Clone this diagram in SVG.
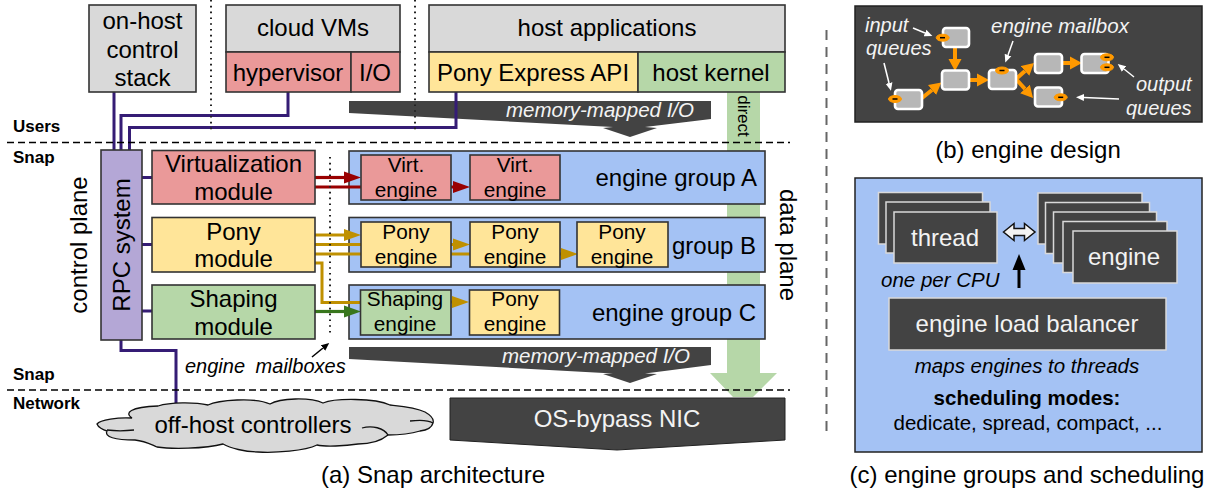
<svg xmlns="http://www.w3.org/2000/svg" width="1210" height="490" viewBox="0 0 1210 490">
<style>
text{font-family:"Liberation Sans",Arial,sans-serif;fill:#000;font-size:24px}
.m{text-anchor:middle}
.e{text-anchor:end}
.s{font-size:20.8px}
.i{font-style:italic;font-size:20.5px}
.w{fill:#f3f3f3}
.b{font-weight:bold;font-size:17px}
.box{stroke:#333;stroke-width:1.6}
.gray{fill:#d9d9d9}.red{fill:#ea9999}.yel{fill:#ffe599}.grn{fill:#b6d7a8}.blu{fill:#a4c2f4}.pur{fill:#b4a7d6}
.dk{fill:#434343}
.st{fill:#434343;stroke:#d9d9d9;stroke-width:1.5}
.pl{fill:none;stroke:#351c75;stroke-width:3}
.rl{fill:none;stroke:#990000;stroke-width:3.2}
.gl{fill:none;stroke:#bf9000;stroke-width:3}
.tl{fill:none;stroke:#38761d;stroke-width:3.2}
.ol{fill:none;stroke:#ff9900;stroke-width:4}
.wl{fill:none;stroke:#fff;stroke-width:1.5}
.dash{fill:none;stroke:#000;stroke-width:1.5;stroke-dasharray:7 4}
.dot{fill:none;stroke:#222;stroke-width:2;stroke-dasharray:1.6 4.2}
.q{fill:#ff9900;stroke:#ff9900}
.n{fill:#b7b7b7;stroke:#fff;stroke-width:2.6}
</style>
<defs>
<marker id="hr" markerUnits="userSpaceOnUse" markerWidth="18" markerHeight="14" refX="0" refY="7" orient="auto"><path d="M0 1L17 7L0 13Z" fill="#990000"/></marker>
<marker id="hg" markerUnits="userSpaceOnUse" markerWidth="18" markerHeight="14" refX="0" refY="7" orient="auto"><path d="M0 1L17 7L0 13Z" fill="#bf9000"/></marker>
<marker id="ht" markerUnits="userSpaceOnUse" markerWidth="18" markerHeight="14" refX="0" refY="7" orient="auto"><path d="M0 1L17 7L0 13Z" fill="#38761d"/></marker>
<marker id="ho" markerUnits="userSpaceOnUse" markerWidth="13" markerHeight="14" refX="0" refY="7" orient="auto"><path d="M0 .5L12 7L0 13.5Z" fill="#ff9900"/></marker>
<marker id="hw" markerUnits="userSpaceOnUse" markerWidth="9" markerHeight="8" refX="0" refY="4" orient="auto"><path d="M0 .5L8 4L0 7.5Z" fill="#fff"/></marker>
<marker id="hk" markerUnits="userSpaceOnUse" markerWidth="9" markerHeight="8" refX="0" refY="4" orient="auto"><path d="M0 .5L8 4L0 7.5Z" fill="#000"/></marker>
</defs>

<g id="data-path-direct"><path fill="#b6d7a8" d="M727 92H760V373H777L753 397H733L710 373H727Z"/><text class="m" style="font-size:17px" transform="translate(738,116) rotate(90)">direct</text></g>

<g id="mmio-top"><polygon class="dk" points="349,101 711,101 711,119 645,127 657,128 630,137 603,128 613,127 349,113"/><text class="i w m" x="600" y="117">memory-mapped I/O</text></g>
<g id="mmio-bottom"><polygon class="dk" points="349,347 711,347 711,365 645,373.500 657,374 630,383 603,374 613,373.500 349,359"/><text class="i w m" x="596" y="363">memory-mapped I/O</text></g>

<g id="group-a"><rect class="box blu" x="349" y="151" width="416" height="53"/><text class="e" x="757" y="186">engine group A</text></g>
<g id="group-b"><rect class="box blu" x="349" y="217.500" width="416" height="54.500"/><text class="e" x="756" y="254">group B</text></g>
<g id="group-c"><rect class="box blu" x="349" y="285" width="416" height="54"/><text class="e" x="756" y="321">engine group C</text></g>

<g id="connectors">
<path class="pl" d="M114 92V150"/>
<path class="pl" d="M121 150V115.500H288V92"/>
<path class="pl" d="M129.500 150V127.500H456V92"/>
<path class="pl" d="M142 177.500H152M142 244.500H152M142 311H152"/>
<path class="pl" d="M121 340V350.500H176V404"/>
<path class="rl" d="M315 177.500H344" marker-end="url(#hr)"/>
<path class="rl" d="M315 187H361"/>
<path class="rl" d="M451 187H453" marker-end="url(#hr)"/>
<path class="gl" d="M315 235H344" marker-end="url(#hg)"/>
<path class="gl" d="M315 244.500H361M315 254H361"/>
<path class="gl" d="M315 263H322V302.500H361"/>
<path class="gl" d="M451 244.500H453" marker-end="url(#hg)"/>
<path class="gl" d="M451 254H470"/>
<path class="gl" d="M560 254H561" marker-end="url(#hg)"/>
<path class="gl" d="M451 302H452" marker-end="url(#hg)"/>
<path class="tl" d="M315 311.500H344" marker-end="url(#ht)"/>
<path class="dot" d="M211 0V131M415 0V133M330 157V336"/>
<path d="M312 357L323 348" fill="none" stroke="#000" stroke-width="1.5" marker-end="url(#hk)"/>
</g>

<g id="on-host"><rect class="box gray" x="89" y="5" width="107" height="87"/><text class="m" x="142.500" y="29">on-host</text><text class="m" x="142.500" y="58">control</text><text class="m" x="142.500" y="86">stack</text></g>
<g id="cloud-vms"><rect class="box gray" x="226" y="5" width="174" height="47"/><text class="m" x="313" y="36">cloud VMs</text></g>
<g id="hypervisor"><rect class="box red" x="226" y="52" width="125" height="40"/><text class="m" x="288" y="81">hypervisor</text></g>
<g id="io"><rect class="box red" x="351" y="52" width="49" height="40"/><text class="m" x="375" y="81">I/O</text></g>
<g id="host-apps"><rect class="box gray" x="429" y="5" width="356" height="47"/><text class="m" x="607" y="36">host applications</text></g>
<g id="pony-api"><rect class="box yel" x="429" y="52" width="209" height="40"/><text class="m" x="533" y="81">Pony Express API</text></g>
<g id="host-kernel"><rect class="box grn" x="638" y="52" width="147" height="40"/><text class="m" x="711" y="81">host kernel</text></g>

<g id="rpc"><rect class="box pur" x="101" y="150" width="41" height="190"/><text class="m" transform="translate(130,245) rotate(-90)">RPC system</text></g>
<g id="virt-mod"><rect class="box red" x="152" y="150.500" width="163" height="53.500"/><text class="m" x="233.500" y="172">Virtualization</text><text class="m" x="233.500" y="200">module</text></g>
<g id="pony-mod"><rect class="box yel" x="152" y="217.500" width="163" height="54.500"/><text class="m" x="233.500" y="240">Pony</text><text class="m" x="233.500" y="267">module</text></g>
<g id="shape-mod"><rect class="box grn" x="152" y="285" width="163" height="54"/><text class="m" x="233.500" y="307">Shaping</text><text class="m" x="233.500" y="335">module</text></g>

<g id="virt1"><rect class="box red" x="361" y="155" width="90" height="45"/><text class="m s" x="406" y="172">Virt.</text><text class="m s" x="406" y="197">engine</text></g>
<g id="virt2"><rect class="box red" x="470" y="155" width="90" height="45"/><text class="m s" x="515" y="172">Virt.</text><text class="m s" x="515" y="197">engine</text></g>
<g id="pony1"><rect class="box yel" x="361" y="222" width="90" height="45"/><text class="m s" x="406" y="239">Pony</text><text class="m s" x="406" y="264">engine</text></g>
<g id="pony2"><rect class="box yel" x="470" y="222" width="90" height="45"/><text class="m s" x="515" y="239">Pony</text><text class="m s" x="515" y="264">engine</text></g>
<g id="pony3"><rect class="box yel" x="577" y="222" width="91" height="45"/><text class="m s" x="622" y="239">Pony</text><text class="m s" x="622" y="264">engine</text></g>
<g id="shape-eng"><rect class="box grn" x="360.500" y="290" width="90.500" height="45"/><text class="m s" x="405" y="306">Shaping</text><text class="m s" x="405" y="331">engine</text></g>
<g id="pony4"><rect class="box yel" x="469.500" y="290" width="90" height="45"/><text class="m s" x="515" y="306">Pony</text><text class="m s" x="515" y="331">engine</text></g>

<g id="off-host"><path fill="#d9d9d9" stroke="#111" stroke-width="1.3" d="M97 424C100 420 118 417 132 418C124 413 130 407 158 406C170 402 195 402 208 405C218 400 255 397 270 404C280 398 310 397 323 403C335 398 375 398 390 405C400 406 415 407 425 412C432 416 434 420 433 423C432 427 428 430 420 431C410 434 398 435 388 435C382 440 372 444 358 444C345 446 325 447 317 445C305 451 275 453 258 452C245 452 230 448 223 444C205 449 170 449 157 447C150 444 145 441 135 440C115 440 104 437 107 431C103 430 98 427 97 424Z"/><path fill="none" stroke="#111" stroke-width="1.3" d="M107 430C115 431 125 431 134 430M362 428C372 425 384 428 388 435M410 421C418 420 428 420 433 423"/><text class="m" x="253" y="433">off-host controllers</text></g>

<g id="nic"><polygon class="dk" stroke="#222" stroke-width="1" points="450,398 785,398 785,440 617,450 450,440"/><text class="m w" x="617" y="427">OS-bypass NIC</text></g>

<g id="separators">
<path class="dash" d="M7 142.500H790M7 390H790"/>
<path d="M826.500 30V432" fill="none" stroke="#666" stroke-width="2" stroke-dasharray="10 7"/>
</g>

<g id="labels-a">
<text class="b" x="13" y="132">Users</text>
<text class="b" x="13" y="163">Snap</text>
<text class="b" x="13" y="380">Snap</text>
<text class="b" x="13" y="409">Network</text>
<text class="m" transform="translate(87,245) rotate(-90)">control plane</text>
<text class="m" transform="translate(780,245) rotate(90)">data plane</text>
<text class="i" style="font-size:20px;word-spacing:5px" x="185" y="373">engine mailboxes</text>
<text class="m" x="433" y="483">(a) Snap architecture</text>
</g>

<g id="panel-b">
<rect x="855" y="6" width="347" height="116" fill="#434343" stroke="#222" stroke-width="1.5"/>
<g id="b-edges">
<path class="ol" d="M955 47V59" marker-end="url(#ho)"/>
<path class="ol" d="M922 98L932 90" marker-end="url(#ho)"/>
<path class="ol" d="M969 80H977" marker-end="url(#ho)"/>
<path class="ol" d="M1016 79L1025 71" marker-end="url(#ho)"/>
<path class="ol" d="M1016 79L1025 89" marker-end="url(#ho)"/>
<path class="ol" d="M1062 63H1070" marker-end="url(#ho)"/>
<path class="wl" d="M913 28L925 33" marker-end="url(#hw)"/>
<path class="wl" d="M884 63L889 83" marker-end="url(#hw)"/>
<path class="wl" d="M1013 41L1008 55" marker-end="url(#hw)"/>
<path class="wl" d="M1134 77L1124 69" marker-end="url(#hw)"/>
<path class="wl" d="M1119 99L1084 97.500" marker-end="url(#hw)"/>
</g>
<g id="b-n1"><rect class="n" x="943" y="28" width="26" height="19" rx="3"/><ellipse class="q" cx="942.700" cy="37.700" rx="6.500" ry="3.500"/><path d="M940 37.700h5" stroke="#000" stroke-width="1.500"/></g>
<g id="b-n2"><rect class="n" x="942" y="70.500" width="27" height="19" rx="3"/></g>
<g id="b-n3"><rect class="n" x="895" y="90" width="27" height="19" rx="3"/><ellipse class="q" cx="895" cy="99" rx="6.500" ry="3.500"/><path d="M892.500 99h5" stroke="#000" stroke-width="1.500"/></g>
<g id="b-n4"><rect class="n" x="989" y="70" width="27" height="19" rx="3"/><ellipse class="q" cx="1002" cy="70.500" rx="6.500" ry="3.500"/><path d="M999.500 70.500h5" stroke="#000" stroke-width="1.500"/></g>
<g id="b-n5"><rect class="n" x="1035" y="54" width="27" height="19" rx="3"/></g>
<g id="b-n6"><rect class="n" x="1081.500" y="54" width="27" height="19" rx="3"/><ellipse class="q" cx="1107" cy="57.300" rx="6.500" ry="3.500"/><path d="M1104.500 57.300h5" stroke="#000" stroke-width="1.500"/><ellipse class="q" cx="1107" cy="67.300" rx="6.500" ry="3.500"/><path d="M1104.500 67.300h5" stroke="#000" stroke-width="1.500"/></g>
<g id="b-n7"><rect class="n" x="1035" y="87.500" width="27" height="19" rx="3"/><ellipse class="q" cx="1060.700" cy="97.300" rx="6.500" ry="3.500"/><path d="M1058.200 97.300h5" stroke="#000" stroke-width="1.500"/></g>
<text class="i w" style="font-size:20px" x="865" y="32">input</text>
<text class="i w" style="font-size:20px" x="866" y="55">queues</text>
<text class="i w" x="991" y="33">engine mailbox</text>
<text class="i w" style="font-size:20px" x="1136" y="91">output</text>
<text class="i w" style="font-size:20px" x="1126" y="115">queues</text>
</g>
<text class="m" x="1028" y="158">(b) engine design</text>

<g id="panel-c">
<rect class="blu" x="855" y="178" width="347" height="274" stroke="#222" stroke-width="1.5"/>
<g id="threads"><rect class="st" x="878.500" y="192.500" width="104" height="51.500"/><rect class="st" x="886" y="202" width="104" height="51"/><rect class="st" x="894" y="212" width="103" height="51"/><text class="m w" x="945" y="246">thread</text></g>
<g id="engines"><rect class="st" x="1038" y="193" width="104" height="51"/><rect class="st" x="1045.500" y="202.500" width="104" height="51"/><rect class="st" x="1053.500" y="212" width="103" height="51"/><rect class="st" x="1063" y="221.500" width="104" height="51"/><rect class="st" x="1073" y="231" width="104" height="52"/><text class="m w" x="1124" y="265">engine</text></g>
<polygon points="1003.500,232 1014,223.500 1014,228.500 1024.500,228.500 1024.500,223.500 1035,232 1024.500,240.500 1024.500,235.500 1014,235.500 1014,240.500" fill="#f3f3f3" stroke="#111" stroke-width="1.5"/>
<path d="M1019 288V268" stroke="#000" stroke-width="3" fill="none"/><polygon points="1019,254 1025.500,270 1012.500,270" fill="#000"/>
<text class="i" x="881" y="287">one per CPU</text>
<g id="balancer"><rect class="st" x="889" y="298" width="277" height="52"/><text class="m w" x="1027" y="332">engine load balancer</text></g>
<text class="i m" x="1027" y="373">maps engines to threads</text>
<text class="m" style="font-weight:bold;font-size:20.500px" x="1027" y="405">scheduling modes:</text>
<text class="m" style="font-size:20.500px" x="1028" y="430">dedicate, spread, compact, ...</text>
</g>
<text class="m" x="1027" y="483">(c) engine groups and scheduling</text>
</svg>
